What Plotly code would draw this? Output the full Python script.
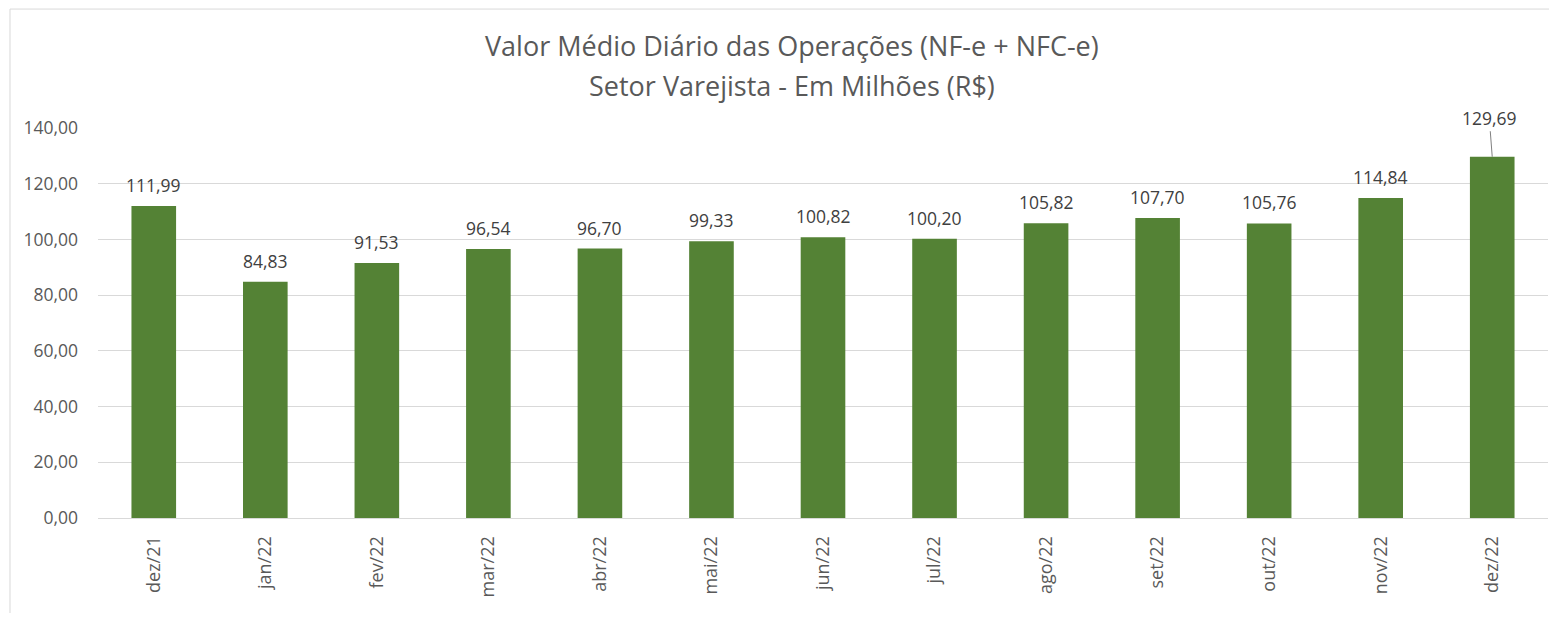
import plotly.graph_objects as go

categories = ["dez/21", "jan/22", "fev/22", "mar/22", "abr/22", "mai/22", "jun/22",
              "jul/22", "ago/22", "set/22", "out/22", "nov/22", "dez/22"]
values = [111.99, 84.83, 91.53, 96.54, 96.70, 99.33, 100.82,
          100.20, 105.82, 107.70, 105.76, 114.84, 129.69]
y_ticks = [0, 20, 40, 60, 80, 100, 120, 140]

title_line1 = "Valor Médio Diário das Operações (NF-e + NFC-e)"
title_line2 = "Setor Varejista - Em Milhões (R$)"

font_family = "'Open Sans', sans-serif"
bar_color = "#548235"
label_color = "#404040"
tick_color = "#595959"


def fmt(v):
    return f"{v:.2f}".replace(".", ",")


fig = go.Figure()
fig.add_trace(go.Bar(
    x=categories, y=values, marker_color=bar_color, marker_line_width=0,
    hoverinfo="x+y",
))

# data labels
for c, v in zip(categories[:-1], values[:-1]):
    fig.add_annotation(x=c, y=v, text=fmt(v), showarrow=False,
                       yanchor="middle", yshift=21,
                       font=dict(size=17.5, color=label_color, family=font_family))

fig.add_annotation(
    x=categories[-1], y=values[-1], text=fmt(values[-1]),
    showarrow=True, arrowhead=0, arrowwidth=1, arrowcolor="#808080",
    ax=-3, ay=-39, font=dict(size=17.5, color=label_color, family=font_family),
)

# title lines
fig.add_annotation(xref="paper", yref="paper", x=0.4786, y=1.2128,
                   text=title_line1, showarrow=False, yanchor="middle",
                   font=dict(size=27, color=tick_color, family=font_family))
fig.add_annotation(xref="paper", yref="paper", x=0.4786, y=1.110,
                   text=title_line2, showarrow=False, yanchor="middle",
                   font=dict(size=27, color=tick_color, family=font_family))

# outer chart border
fig.add_shape(type="rect", xref="paper", yref="paper",
              x0=-0.0607, x1=1.05, y0=-0.4, y1=1.305,
              line=dict(color="#d9d9d9", width=1), fillcolor="rgba(0,0,0,0)", layer="below")

fig.update_layout(
    width=1541, height=605,
    margin=dict(l=90, r=1, t=120, b=95),
    paper_bgcolor="white", plot_bgcolor="white",
    separators=",.",
    showlegend=False,
    bargap=0.6,
    font=dict(family=font_family, color=tick_color),
    xaxis=dict(tickangle=-90, tickfont=dict(size=18, color=tick_color),
               showgrid=False, showline=True, linecolor="#d9d9d9", ticks="",
               ticklabelstandoff=10),
    yaxis=dict(range=[0, 140], tickvals=y_ticks, tickformat=".2f",
               tickfont=dict(size=17.5, color=tick_color),
               showgrid=True, gridcolor="#d9d9d9", gridwidth=1,
               zeroline=False, showline=False, ticks="", ticklen=0,
               ticklabelstandoff=19),
)

fig.write_html("out.html")
